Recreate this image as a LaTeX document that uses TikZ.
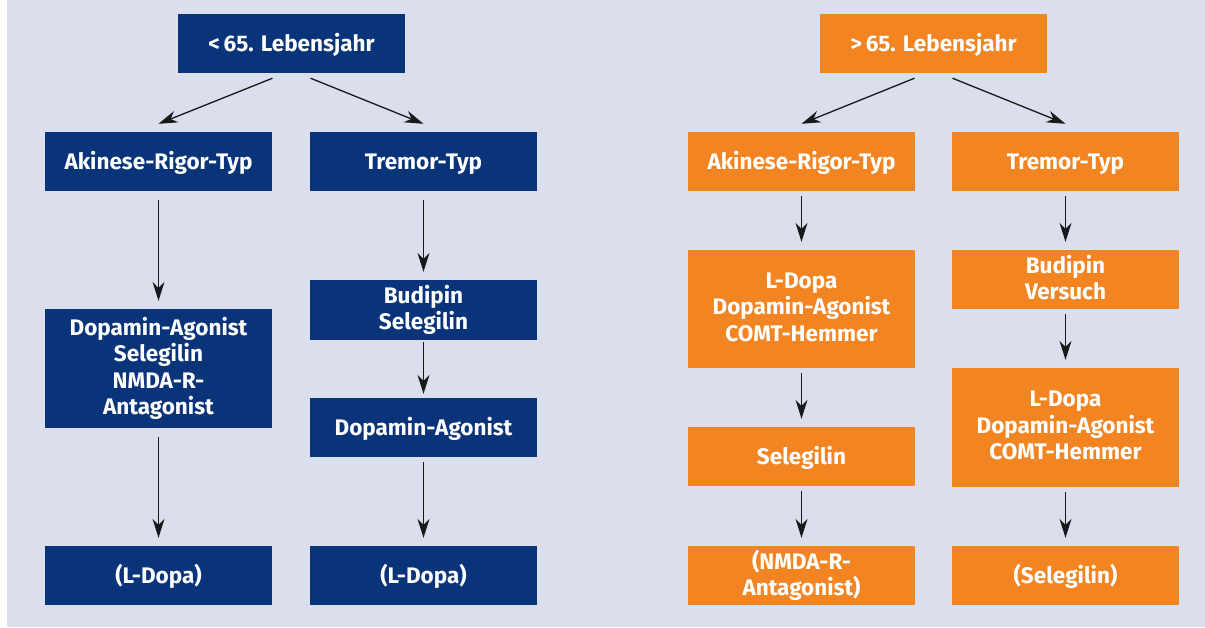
\documentclass[tikz,border=0pt]{standalone}
\usepackage{fontspec}
\setmainfont{Fira Sans}
\usetikzlibrary{arrows.meta}
\definecolor{bg}{RGB}{218,222,237}
\definecolor{navy}{RGB}{10,52,122}
\definecolor{orng}{RGB}{242,133,34}
\newcommand\mystrut{\rule[-4.5pt]{0pt}{24.5pt}}
\tikzset{
  box/.style={minimum width=227pt, minimum height=59pt, inner sep=2pt, align=center,
    text=white, font=\fontsize{22.5}{26.5}\selectfont\bfseries,
    execute at begin node=\mystrut, execute at end node=\mystrut},
  bluebox/.style={box, fill=navy},
  orbox/.style={box, fill=orng},
  arr/.style={draw=black!90, line width=1.3pt, -{Stealth[length=19pt,width=12pt,inset=6pt]}},
}
\begin{document}
\begin{tikzpicture}[x=1pt,y=-1pt]
\useasboundingbox (0,0) rectangle (1205,627);
\fill[bg] (7,0) rectangle (1205,627);
% left group
\node[bluebox] (top1) at (291.5,43.5) {<\,65. Lebensjahr};
\node[bluebox] (ak1) at (158.5,161.5) {Akinese-Rigor-Typ};
\node[bluebox] (tr1) at (423.5,161.5) {Tremor-Typ};
\node[bluebox, minimum height=119pt] (da1) at (158.5,368.5) {Dopamin-Agonist\\Selegilin\\NMDA-R-\\Antagonist};
\node[bluebox, minimum height=60pt] (bs1) at (423.5,310) {Budipin\\Selegilin};
\node[bluebox] (dag1) at (423.5,427.5) {Dopamin-Agonist};
\node[bluebox] (ld1) at (158.5,575.5) {(L-Dopa)};
\node[bluebox] (ld2) at (423.5,575.5) {(L-Dopa)};
% right group
\node[orbox] (top2) at (933.5,43.5) {>\,65. Lebensjahr};
\node[orbox] (ak2) at (801.5,161.5) {Akinese-Rigor-Typ};
\node[orbox] (tr2) at (1065.5,161.5) {Tremor-Typ};
\node[orbox, minimum height=118pt] (ldc2) at (801.5,309) {L-Dopa\\Dopamin-Agonist\\COMT-Hemmer};
\node[orbox] (sel2) at (801.5,456.5) {Selegilin};
\node[orbox] (nm2) at (801.5,575.5) {(NMDA-R-\\Antagonist)};
\node[orbox] (bv2) at (1065.5,279.5) {Budipin\\Versuch};
\node[orbox, minimum height=119pt] (ldc3) at (1065.5,427.5) {L-Dopa\\Dopamin-Agonist\\COMT-Hemmer};
\node[orbox] (sel3) at (1065.5,575.5) {(Selegilin)};
% arrows left
\draw[arr] ([xshift=-19pt,yshift=-5pt]top1.south) -- ([yshift=8pt]ak1.north);
\draw[arr] ([xshift=19pt,yshift=-5pt]top1.south) -- ([yshift=8pt]tr1.north);
\draw[arr] ([yshift=-9pt]ak1.south) -- ([yshift=8pt]da1.north);
\draw[arr] ([yshift=-9pt]da1.south) -- ([yshift=8pt]ld1.north);
\draw[arr] ([yshift=-9pt]tr1.south) -- ([yshift=8pt]bs1.north);
\draw[arr] ([yshift=-2pt]bs1.south) -- ([yshift=4pt]dag1.north);
\draw[arr] ([yshift=-5pt]dag1.south) -- ([yshift=8pt]ld2.north);
% arrows right
\draw[arr] ([xshift=-19pt,yshift=-5pt]top2.south) -- ([yshift=8pt]ak2.north);
\draw[arr] ([xshift=19pt,yshift=-5pt]top2.south) -- ([yshift=8pt]tr2.north);
\draw[arr] ([yshift=-5pt]ak2.south) -- ([yshift=8pt]ldc2.north);
\draw[arr] ([yshift=-5pt]ldc2.south) -- ([yshift=8pt]sel2.north);
\draw[arr] ([yshift=-5pt]sel2.south) -- ([yshift=8pt]nm2.north);
\draw[arr] ([yshift=-5pt]tr2.south) -- ([yshift=8pt]bv2.north);
\draw[arr] ([yshift=-5pt]bv2.south) -- ([yshift=8pt]ldc3.north);
\draw[arr] ([yshift=-5pt]ldc3.south) -- ([yshift=8pt]sel3.north);
\end{tikzpicture}
\end{document}
